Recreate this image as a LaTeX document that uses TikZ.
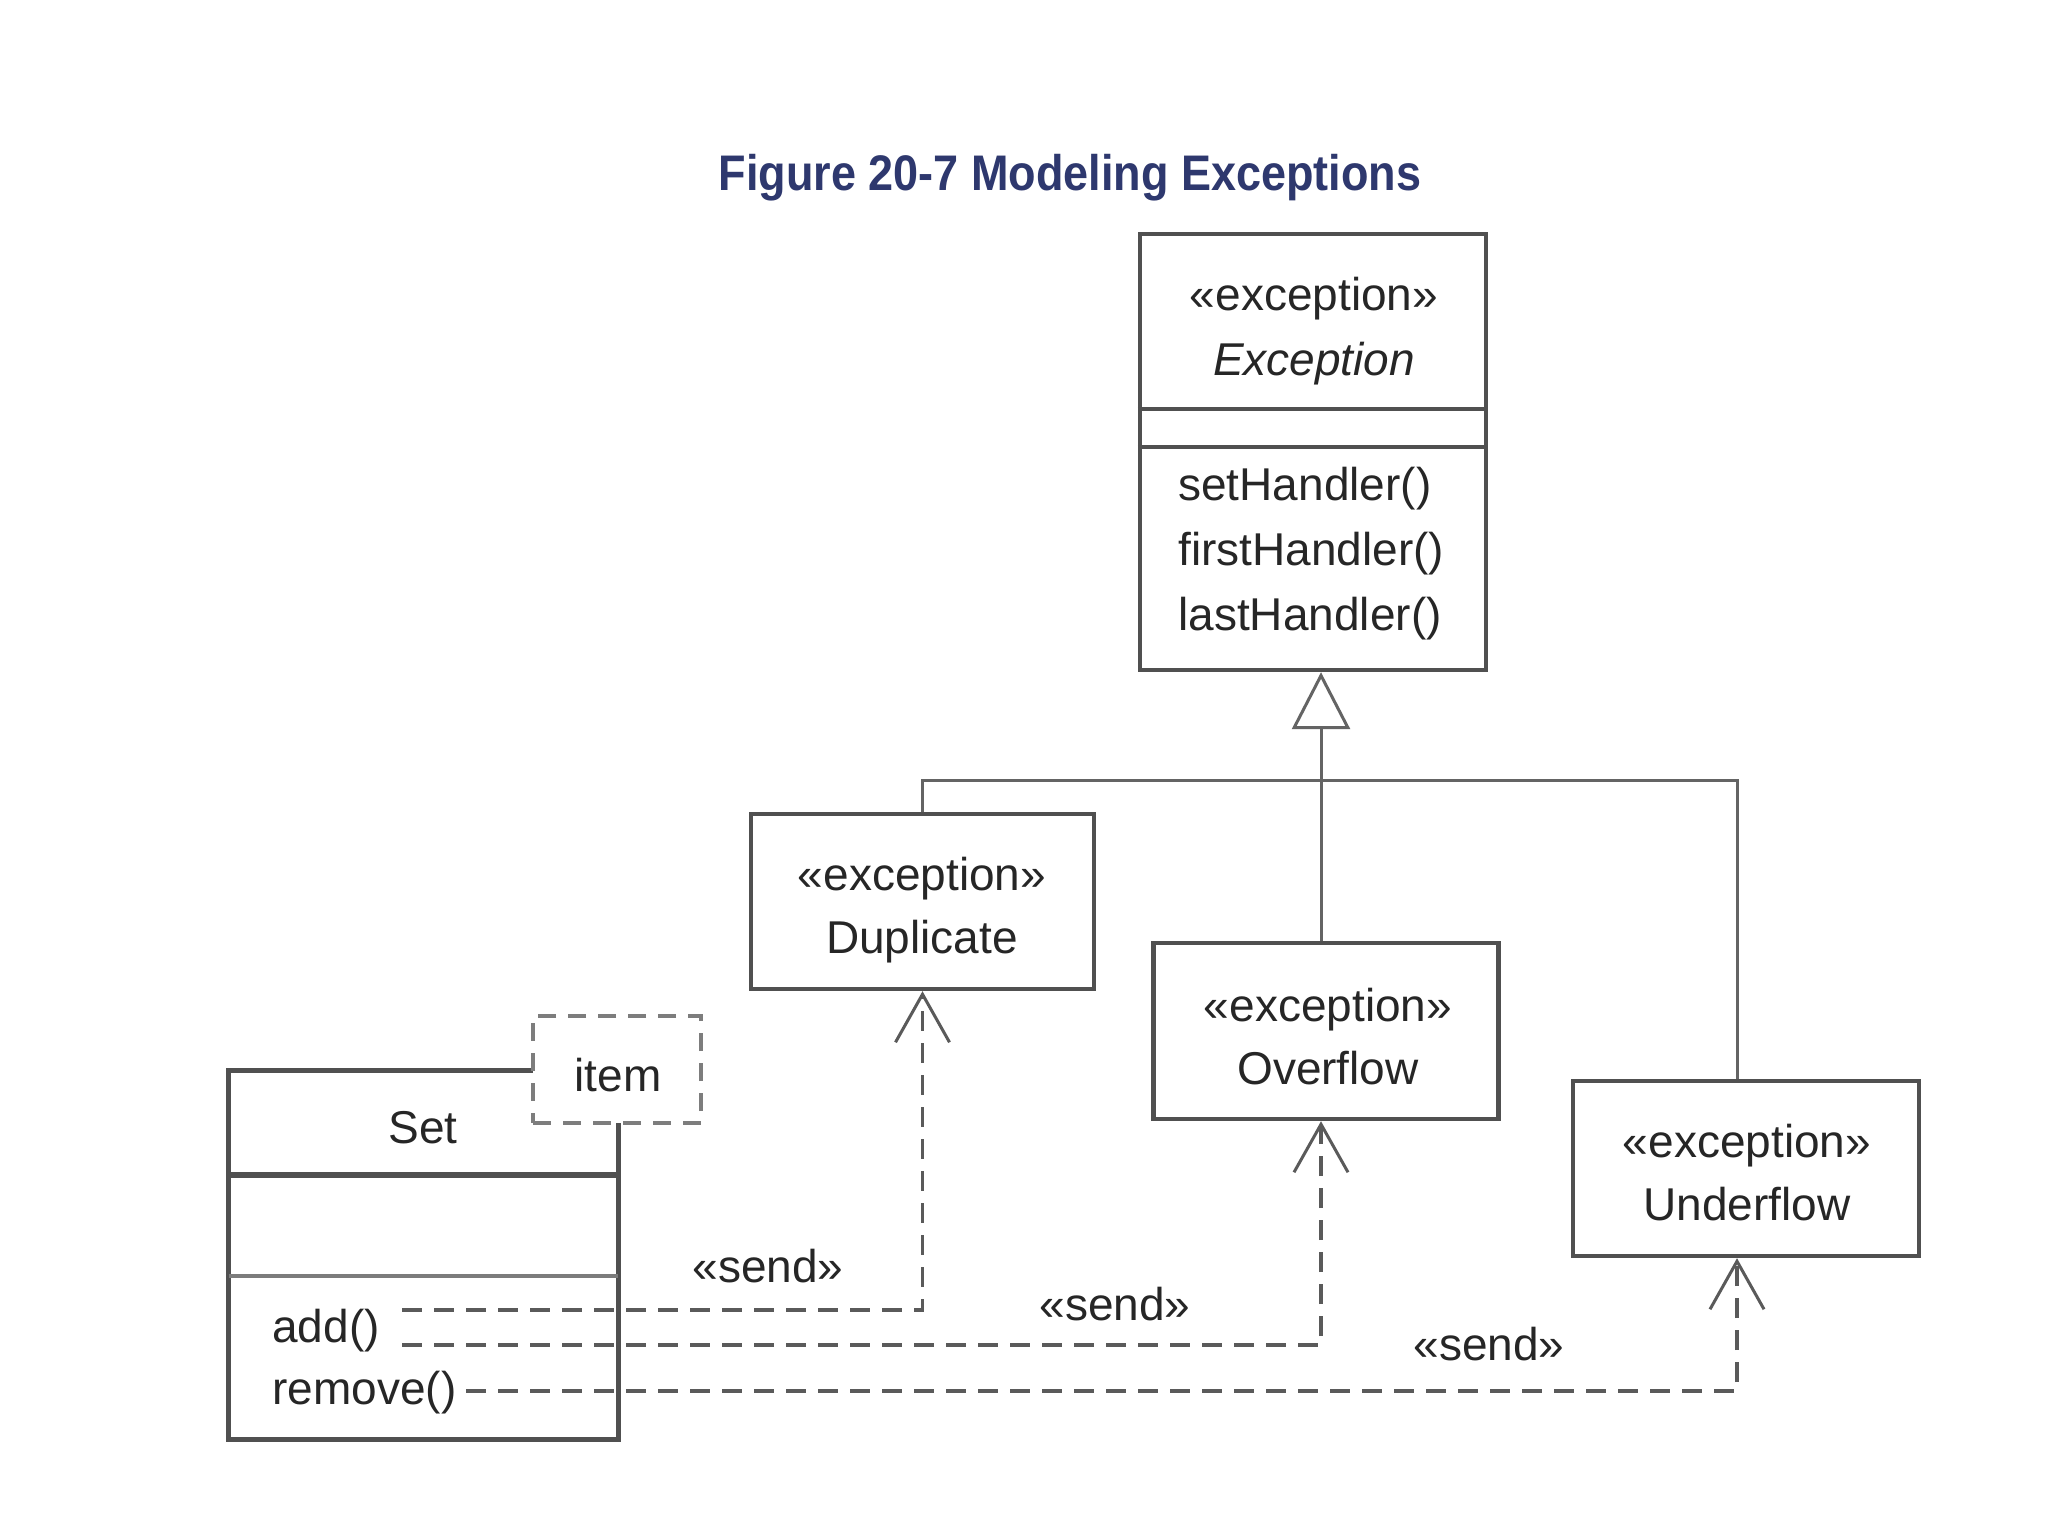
\documentclass[tikz,border=0pt]{standalone}
\usepackage{fontspec}
\setmainfont{Liberation Sans}
\newfontfamily\titlefamily{Liberation Sans}[FakeStretch=0.9]
\usetikzlibrary{arrows.meta}
\definecolor{titlec}{RGB}{46,56,110}
\definecolor{boxc}{RGB}{80,80,80}
\definecolor{linec}{RGB}{100,100,100}
\definecolor{dashc}{RGB}{90,90,90}
\definecolor{itemc}{RGB}{125,125,125}
\newcommand{\dgfont}{\fontsize{23}{28}\selectfont}
\tikzset{
  lbl/.style={inner sep=0pt, font=\dgfont, text=black!85},
  titlestyle/.style={inner sep=0pt, font=\titlefamily\fontsize{25}{30}\selectfont\bfseries, text=titlec},
  classbox/.style={draw=boxc, line width=2.2pt, inner sep=0pt, fill=white},
  plainbox/.style={inner sep=0pt},
  boxline/.style={draw=boxc, line width=2.2pt},
  itembox/.style={draw=itemc, line width=2pt, inner sep=0pt, dash pattern=on 9pt off 6pt},
  genline/.style={draw=linec, line width=1.5pt},
  dep/.style={draw=dashc, line width=1.8pt, dash pattern=on 10pt off 6pt,
    -{Straight Barb[length=24pt, width=27pt, line width=1.5pt]}},
}
\begin{document}
\begin{tikzpicture}[x=0.5pt,y=-0.5pt]
\useasboundingbox (0,0) rectangle (2048,1536);
\fill[white] (0,0) rectangle (2048,1536);

% title
\node[titlestyle, anchor=base] (title) at (1070,190) {Figure 20-7 Modeling Exceptions};

% Exception class
\node[classbox, minimum width=173pt, minimum height=218pt] (exc) at (1313,452) {};
\draw[boxline] (exc.west |- 0,409) -- (exc.east |- 0,409);
\draw[boxline] (exc.west |- 0,447) -- (exc.east |- 0,447);
\node[lbl, anchor=base] (excS) at (1314,310) {«exception»};
\node[lbl, anchor=base, font=\dgfont\itshape] (excN) at (1314,375) {Exception};
\node[lbl, anchor=base west] (m1) at (1178,500) {setHandler()};
\node[lbl, anchor=base west] (m2) at (1178,565) {firstHandler()};
\node[lbl, anchor=base west] (m3) at (1178,630) {lastHandler()};

% Duplicate
\node[classbox, minimum width=171.5pt, minimum height=87.5pt] (dup) at (922.5,901.5) {};
\node[lbl, anchor=base] (dupS) at (922,890) {«exception»};
\node[lbl, anchor=base] (dupN) at (922,953) {Duplicate};

% Overflow
\node[classbox, minimum width=172.5pt, minimum height=88pt] (ovf) at (1326,1031) {};
\node[lbl, anchor=base] (ovfS) at (1328,1021) {«exception»};
\node[lbl, anchor=base] (ovfN) at (1328,1084) {Overflow};

% Underflow
\node[classbox, minimum width=173pt, minimum height=87.5pt] (unf) at (1746,1168.5) {};
\node[lbl, anchor=base] (unfS) at (1747,1157) {«exception»};
\node[lbl, anchor=base] (unfN) at (1747,1220) {Underflow};
\coordinate (unfN0) at ([xshift=-4.5pt]unf.north);
\coordinate (unfS0) at ([xshift=-4.5pt]unf.south);
\coordinate (ovfN0) at ([xshift=-2.5pt]ovf.north);
\coordinate (ovfS0) at ([xshift=-2.5pt]ovf.south);

% generalization
\coordinate (busy) at (0,780);
\draw[genline] (dup.north) -- (dup.north |- busy) -- (unfN0 |- busy) -- (unfN0);
\draw[genline, -{Triangle[open, length=28.5pt, width=29pt, line width=1.5pt]}]
  (ovfN0) -- (ovfN0 |- exc.south);

% Set class with template parameter
\node[plainbox, minimum width=84pt, minimum height=53.5pt] (item) at (617,1069.5) {};
\node[plainbox, minimum width=194.5pt, minimum height=184pt] (set) at (423.5,1255) {};
\draw[boxline] (item.west |- set.north) -- (set.north west) -- (set.south west)
  -- (set.south east) -- (set.east |- item.south);
\draw[boxline, line width=2.8pt] (set.west |- 0,1175) -- (set.east |- 0,1175);
\draw[boxline, draw=boxc!75] (set.west |- 0,1276) -- (set.east |- 0,1276);
\node[itembox, minimum width=84pt, minimum height=53.5pt] (itembx) at (617,1069.5) {};
\node[lbl, anchor=base] (itemt) at (618,1091) {item};
\node[lbl, anchor=base] (setN) at (423,1143) {Set};
\node[lbl, anchor=base west] (add) at (272,1342) {add()};
\node[lbl, anchor=base west] (rem) at (272,1404) {remove()};

% send dependencies
\coordinate (d1) at (402,1310);
\coordinate (d2) at (402,1345);
\coordinate (d3) at (466,1391);
\draw[dep] (d1) -| (dup.south);
\draw[dep] (d2) -| (ovfS0);
\draw[dep] (d3) -| (unfS0);
\node[lbl, anchor=base] (s1) at (768,1282) {«send»};
\node[lbl, anchor=base] (s2) at (1115,1320) {«send»};
\node[lbl, anchor=base] (s3) at (1489,1360) {«send»};
\end{tikzpicture}
\end{document}
